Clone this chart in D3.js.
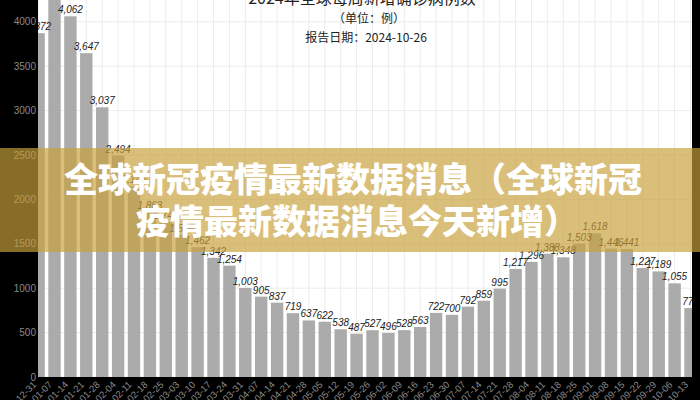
<!DOCTYPE html>
<html><head><meta charset="utf-8">
<script src="https://cdn.jsdelivr.net/npm/d3@7"></script>
<style>body{margin:0;background:#000;} svg{display:block}</style>
</head><body><svg id="c" width="700" height="400"></svg>
<script>
const dates = ["12-31","01-07","01-14","01-21","01-28","02-04","02-11","02-18","02-25","03-03","03-10","03-17","03-24","03-31","04-07","04-14","04-21","04-28","05-05","05-12","05-19","05-26","06-02","06-09","06-16","06-23","06-30","07-07","07-14","07-21","07-28","08-04","08-11","08-18","08-25","09-01","09-08","09-15","09-22","09-29","10-06","10-13"];
const values = [3872,4412,4062,3647,3037,2494,2146,1863,1742,1598,1462,1342,1254,1003,905,837,719,637,622,538,487,527,496,528,563,722,700,792,859,995,1217,1296,1388,1348,1503,1618,1446,1441,1227,1189,1055,776];
const yTicks = [0,500,1000,1500,2000,2500,3000,3500,4000];
const title = "2024年全球每周新增确诊病例数";
const subtitle = "（单位：例）";
const reportDate = "报告日期：2024-10-26";
const bannerLines = ["全球新冠疫情最新数据消息（全球新冠","疫情最新数据消息今天新增）"];

const svg = d3.select("#c");
const W = 700, H = 400;
const plot = {x0: 38, x1: 692, y0: 0, y1: 377};

svg.append("rect").attr("width", W).attr("height", H).attr("fill", "#000");

const x = d3.scaleBand().domain(dates).range([30.65, 30.65 + 42 * 15.9])
  .paddingInner(0.22).paddingOuter(0.11);
const y = d3.scaleLinear().domain([0, 4000]).range([377, 21.8]);

svg.append("defs").append("clipPath").attr("id", "clip")
  .append("rect").attr("x", plot.x0).attr("y", plot.y0)
  .attr("width", plot.x1 - plot.x0).attr("height", plot.y1 - plot.y0);

const g = svg.append("g").attr("clip-path", "url(#clip)");
g.append("rect").attr("x", plot.x0).attr("y", plot.y0)
  .attr("width", plot.x1 - plot.x0).attr("height", plot.y1 - plot.y0).attr("fill", "#fff");

// grid
g.append("g").selectAll("line").data(dates).join("line")
  .attr("x1", d => x(d) + x.bandwidth() / 2).attr("x2", d => x(d) + x.bandwidth() / 2)
  .attr("y1", 0).attr("y2", 377).attr("stroke", "#ececec").attr("stroke-width", 1);
g.append("g").selectAll("line").data(yTicks).join("line")
  .attr("x1", plot.x0).attr("x2", plot.x1)
  .attr("y1", d => y(d)).attr("y2", d => y(d)).attr("stroke", "#ececec").attr("stroke-width", 1);

// bars
g.append("g").selectAll("rect").data(values).join("rect")
  .attr("x", (d, i) => x(dates[i])).attr("width", x.bandwidth())
  .attr("y", d => y(d)).attr("height", d => y(0) - y(d))
  .attr("fill", "#ababab");

// value labels
const fmt = d3.format(",");
g.append("g").selectAll("text").data(values).join("text")
  .attr("x", (d, i) => x(dates[i]) + x.bandwidth() / 2)
  .attr("y", d => y(d) - 3)
  .attr("text-anchor", "middle")
  .attr("font-family", "Liberation Sans, Arial, sans-serif")
  .attr("font-style", "italic")
  .attr("font-size", 10)
  .attr("fill", "#222")
  .text(d => fmt(d));

// titles
const tg = g.append("g").attr("font-family", "Noto Sans CJK SC, sans-serif").attr("fill", "#222").attr("text-anchor", "middle");
tg.append("text").attr("x", 362).attr("y", 4).attr("font-size", 16).text(title);
tg.append("text").attr("x", 369).attr("y", 23).attr("font-size", 12).text(subtitle);
tg.append("text").attr("x", 366).attr("y", 42).attr("font-size", 12).text(reportDate);

// y axis labels
svg.append("g").selectAll("text").data(yTicks).join("text")
  .attr("x", 36).attr("y", d => y(d)).attr("dy", "0.35em")
  .attr("text-anchor", "end")
  .attr("font-family", "Liberation Sans, Arial, sans-serif")
  .attr("font-size", 10).attr("fill", "#8a8a8a")
  .text(d => d);

// x axis labels
svg.append("g").selectAll("text").data(dates).join("text")
  .attr("transform", d => `translate(${x(d) + x.bandwidth() / 2 - 4},${383}) rotate(-45)`)
  .attr("dy", "0.35em")
  .attr("text-anchor", "end")
  .attr("font-family", "Liberation Sans, Arial, sans-serif")
  .attr("font-size", 9.5).attr("fill", "#8a8a8a")
  .text(d => d);

// banner overlay
svg.append("rect").attr("x", 0).attr("y", 148).attr("width", W).attr("height", 104)
  .attr("fill", "rgb(200,160,60)").attr("fill-opacity", 0.68);
svg.append("g").selectAll("text").data(bannerLines).join("text")
  .attr("x", (d, i) => i === 0 ? 353 : 357).attr("y", (d, i) => 192 + i * 42)
  .attr("text-anchor", "middle")
  .attr("font-family", "Noto Sans CJK SC, sans-serif")
  .attr("font-weight", 900).attr("font-size", 34)
  .attr("fill", "#fff")
  .text(d => d);
</script></body></html>
